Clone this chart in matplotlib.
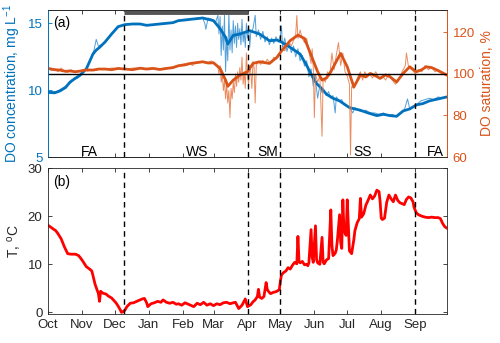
import numpy as np
import matplotlib.pyplot as plt
from matplotlib.transforms import blended_transform_factory

plt.rcParams['font.family'] = ['Liberation Sans', 'DejaVu Sans']
plt.rcParams['mathtext.default'] = 'regular'

# x axis: days since 1 October
month_days = [0, 31, 61, 92, 123, 151, 182, 212, 243, 273, 304, 335]
month_labels = ['Oct', 'Nov', 'Dec', 'Jan', 'Feb', 'Mar', 'Apr', 'May', 'Jun', 'Jul', 'Aug', 'Sep']
season_lines = [69, 182, 212, 335]
season_labels = ['FA', 'WS', 'SM', 'SS', 'FA']
season_label_days = [38, 136, 200, 287, 353]
ice_period = [69, 182]

# DO concentration, smoothed (mg/L)
do_day = [0, 6, 11, 16, 20, 25, 29, 35, 41, 44,
          47, 52, 58, 64, 70, 77, 84, 90, 96, 102,
          108, 114, 119, 125, 130, 136, 141, 146, 151, 157,
          162, 164, 169, 175, 184, 193, 202, 209, 213, 221,
          230, 236, 240, 245, 250, 254, 260, 266, 275, 285,
          292, 300, 306, 312, 318, 324, 330, 336, 342, 348,
          356, 364]
do_val = [9.85, 9.8, 9.95, 10.2, 10.6, 10.9, 11.1, 11.6, 12.7, 13.0,
          13.2, 13.6, 14.2, 14.75, 14.9, 14.95, 14.95, 14.85, 14.9, 14.95,
          15.0, 15.05, 15.2, 15.25, 15.3, 15.35, 15.4, 15.3, 15.2, 14.6,
          13.95, 13.45, 14.1, 14.2, 14.45, 14.2, 13.7, 13.75, 13.6, 13.2,
          12.7, 11.85, 11.2, 10.5, 10.1, 9.7, 9.4, 9.2, 8.7, 8.5,
          8.3, 8.1, 8.2, 8.1, 8.05, 8.45, 8.6, 8.9, 9.0, 9.2,
          9.35, 9.5]

# DO concentration, raw (mg/L)
do_raw_day = [0, 4, 8, 12, 16, 20, 24, 27, 30, 33,
              36, 39, 42, 44, 46, 49, 52, 56, 60, 64,
              68, 74, 80, 88, 96, 104, 112, 118, 124, 130,
              136, 141, 143, 144, 146, 150, 153, 155, 156, 157,
              158, 159, 160, 161, 162, 163, 164, 165, 166, 167,
              168, 169, 170, 171, 172, 173, 174, 175, 176, 177,
              178, 179, 180, 181, 182, 183, 184, 185, 187, 189,
              190, 192, 194, 196, 198, 200, 202, 204, 206, 208,
              210, 212, 213, 214, 216, 218, 220, 222, 224, 226,
              228, 230, 232, 234, 236, 238, 240, 242, 243, 245,
              246, 248, 250, 252, 254, 256, 258, 260, 262, 263,
              266, 268, 270, 273, 276, 278, 280, 283, 286, 290,
              294, 298, 302, 306, 310, 314, 318, 322, 325, 328,
              330, 333, 336, 340, 344, 348, 352, 356, 360, 364]
do_raw_val = [9.7, 9.9, 9.9, 10.1, 10.3, 10.5, 10.8, 10.9, 11.2, 11.4,
              11.8, 12.4, 13.0, 13.8, 13.3, 13.4, 13.6, 14.0, 14.4, 14.8,
              14.85, 14.9, 15.0, 14.9, 14.9, 15.0, 15.0, 15.2, 15.3, 15.3,
              15.4, 15.4, 15.0, 14.55, 15.4, 15.3, 15.1, 15.6, 14.2, 15.5,
              12.6, 14.8, 13.0, 15.6, 11.4, 14.0, 12.2, 15.8, 13.0, 14.5,
              12.8, 15.2, 13.5, 14.8, 13.2, 15.0, 13.8, 14.6, 13.4, 15.3,
              13.6, 14.4, 13.2, 15.0, 13.9, 14.8, 13.2, 14.3, 14.6, 15.6,
              14.0, 14.5, 13.8, 14.4, 13.6, 14.0, 13.4, 13.9, 13.5, 14.0,
              13.6, 14.1, 14.8, 13.2, 13.9, 12.9, 13.5, 12.8, 13.3, 12.5,
              13.1, 12.2, 12.6, 11.8, 12.2, 11.0, 11.6, 10.3, 11.2, 10.1,
              9.4, 10.4, 9.8, 10.0, 9.6, 9.9, 9.4, 9.6, 8.3, 9.5,
              9.2, 9.3, 8.9, 8.8, 8.6, 8.3, 8.7, 8.5, 8.4, 8.5,
              8.3, 8.3, 8.2, 8.3, 8.1, 8.2, 8.0, 8.3, 8.5, 9.35,
              8.6, 8.7, 8.9, 9.2, 9.3, 9.4, 9.3, 9.5, 9.4, 9.5]

# DO saturation, smoothed (%)
sat_day = [0, 6, 11, 16, 20, 25, 29, 35, 41, 46,
           52, 58, 64, 70, 77, 84, 90, 96, 102, 108,
           114, 119, 125, 130, 136, 141, 146, 151, 157, 162,
           164, 169, 175, 182, 187, 193, 202, 209, 213, 221,
           228, 234, 240, 246, 250, 254, 258, 263, 267, 273,
           279, 285, 290, 294, 299, 303, 308, 312, 318, 324,
           330, 336, 341, 345, 350, 355, 364]
sat_val = [102.6, 102.0, 101.8, 101.2, 101.4, 101.0, 101.3, 101.9, 101.8, 102.3,
           102.3, 102.0, 102.6, 102.3, 102.0, 102.7, 102.3, 102.6, 102.1, 102.6,
           103.0, 103.9, 104.3, 105.0, 105.4, 105.8, 105.2, 105.3, 102.6, 97.0,
           94.0, 97.0, 99.4, 101.0, 105.0, 105.8, 105.0, 108.0, 111.0, 116.0,
           118.6, 117.0, 109.0, 101.0, 97.0, 98.0, 101.0, 106.0, 109.8, 103.4,
           93.7, 99.4, 98.5, 100.2, 99.0, 97.8, 99.5, 98.6, 96.1, 100.2,
           103.4, 101.0, 102.0, 103.4, 103.0, 101.8, 99.4]

# DO saturation, raw (%)
sat_raw_day = [0, 3, 6, 9, 12, 15, 18, 21, 24, 27,
               30, 33, 36, 40, 44, 48, 52, 58, 64, 70,
               78, 86, 94, 102, 110, 116, 122, 128, 132, 134,
               138, 142, 146, 149, 151, 153, 155, 156, 157, 158,
               159, 160, 161, 162, 163, 164, 165, 166, 167, 168,
               169, 170, 171, 172, 173, 174, 175, 176, 177, 178,
               179, 180, 181, 182, 183, 184, 185, 186, 187, 188,
               189, 190, 192, 194, 196, 198, 200, 202, 204, 206,
               208, 210, 212, 214, 216, 218, 220, 222, 224, 226,
               227, 228, 230, 232, 234, 236, 238, 240, 241, 242,
               243, 244, 246, 248, 250, 251, 253, 255, 257, 259,
               261, 263, 265, 267, 269, 271, 273, 275, 276, 277,
               279, 281, 283, 285, 287, 289, 291, 293, 296, 299,
               302, 305, 308, 311, 314, 317, 320, 323, 326, 327,
               329, 332, 335, 338, 341, 344, 347, 350, 353, 356,
               360, 364]
sat_raw_val = [103.5, 101.5, 102.5, 101.0, 102.8, 101.2, 100.8, 102.0, 100.9, 101.5,
               101.0, 102.0, 101.3, 102.0, 101.6, 102.6, 102.2, 102.8, 102.5, 102.2,
               102.8, 102.6, 102.7, 102.5, 102.8, 103.5, 104.5, 105.2, 104.0, 105.5,
               105.8, 106.0, 105.5, 106.2, 105.5, 104.5, 103.0, 100.0, 104.0, 96.0,
               100.0, 92.0, 97.0, 88.0, 95.0, 86.0, 92.0, 79.0, 93.0, 88.0,
               96.0, 91.0, 100.0, 94.0, 101.0, 96.0, 103.0, 97.0, 108.0, 95.0,
               101.0, 93.0, 110.0, 99.0, 95.0, 104.0, 101.0, 93.0, 106.0, 103.0,
               86.0, 104.0, 106.0, 104.5, 106.5, 105.0, 107.0, 105.5, 106.0, 108.0,
               107.0, 109.5, 110.0, 112.0, 111.0, 114.0, 115.0, 113.5, 116.0, 119.0,
               128.0, 117.0, 121.0, 117.0, 115.0, 117.0, 111.0, 105.0, 112.0, 103.0,
               79.0, 100.0, 96.0, 99.0, 70.0, 98.0, 96.0, 101.0, 99.0, 110.0,
               102.0, 109.0, 115.0, 104.0, 110.0, 101.0, 99.0, 95.0, 61.0, 94.0,
               93.0, 96.0, 99.0, 101.0, 97.0, 101.0, 99.0, 100.0, 98.0, 101.0,
               98.0, 99.0, 97.0, 100.0, 97.0, 95.0, 97.0, 101.0, 104.0, 110.0,
               103.0, 102.0, 100.0, 102.0, 101.0, 104.0, 102.0, 103.0, 101.0, 102.0,
               100.0, 99.0]

# water temperature (deg C)
temp_day = [0, 2, 5, 7, 9, 12, 15, 18, 21, 25,
            28, 31, 33, 35, 38, 40, 43, 45, 46, 47,
            48, 50, 53, 55, 58, 60, 62, 64, 66, 67,
            68, 70, 72, 75, 78, 81, 84, 86, 88, 90,
            91, 94, 97, 100, 103, 105, 108, 111, 114, 117,
            119, 122, 125, 128, 131, 133, 136, 139, 142, 145,
            148, 151, 154, 157, 160, 163, 166, 169, 171, 174,
            177, 180, 181, 182, 185, 187, 189, 191, 192, 193,
            195, 197, 199, 200, 201, 203, 206, 208, 211, 212,
            213, 215, 217, 219, 221, 223, 225, 227, 228, 229,
            230, 232, 234, 236, 237, 238, 240, 241, 242, 244,
            245, 246, 248, 250, 251, 252, 254, 256, 258, 259,
            260, 262, 263, 264, 266, 267, 268, 269, 270, 272,
            273, 274, 275, 277, 279, 280, 282, 284, 285, 286,
            288, 290, 292, 294, 296, 298, 300, 302, 303, 304,
            305, 307, 309, 311, 313, 315, 317, 319, 321, 323,
            325, 327, 329, 331, 333, 334, 336, 338, 341, 344,
            347, 350, 353, 356, 358, 360, 362, 364]
temp_val = [18.1, 17.8, 17.3, 17.0, 16.4, 15.3, 13.6, 12.2, 12.1, 12.1,
            11.8, 10.9, 10.2, 9.5, 9.0, 8.6, 5.8, 4.5, 3.9, 2.3,
            4.4, 4.0, 3.8, 3.4, 3.0, 2.5, 2.0, 1.3, 0.5, 0.0,
            0.1, 0.4, 1.2, 1.9, 2.0, 2.3, 2.6, 2.8, 2.9, 2.0,
            1.2, 1.8, 2.0, 2.3, 2.1, 2.6, 2.1, 1.9, 2.1, 1.7,
            1.8, 1.5, 2.0, 1.7, 1.4, 1.2, 1.9, 1.6, 2.1, 1.5,
            1.8, 1.4, 1.8, 1.6, 2.0, 2.1, 1.8, 2.0, 2.1, 0.8,
            1.5, 2.8, 2.0, 1.2, 1.6, 2.2, 2.6, 3.3, 4.8, 3.2,
            2.9, 3.3, 6.2, 4.8, 4.4, 3.9, 4.2, 4.3, 4.7, 6.5,
            7.8, 8.3, 8.6, 9.3, 9.0, 9.8, 10.4, 10.1, 15.8, 10.6,
            10.3, 10.6, 9.9, 10.0, 9.7, 10.3, 17.2, 11.5, 10.4, 18.0,
            11.0, 10.3, 10.0, 15.6, 10.4, 10.1, 10.9, 11.2, 21.3, 14.0,
            11.8, 12.3, 13.0, 15.0, 20.3, 14.5, 13.3, 23.4, 17.0, 16.0,
            23.4, 18.0, 12.8, 12.2, 15.1, 17.0, 18.6, 19.5, 23.7, 19.8,
            20.5, 22.3, 23.3, 24.4, 23.6, 24.2, 25.4, 25.1, 23.0, 19.6,
            19.3, 19.6, 22.9, 24.4, 23.6, 23.0, 24.4, 23.3, 22.8, 22.6,
            22.4, 23.5, 24.0, 23.8, 23.0, 21.8, 20.7, 20.3, 20.0, 19.8,
            19.7, 19.8, 19.7, 19.7, 19.5, 18.5, 17.8, 17.5]

blue = '#0072BD'
orange = '#D95319'
grey = '#262626'

fig = plt.figure(figsize=(5.0, 3.43), dpi=100)
ax1 = fig.add_axes([0.096, 0.542, 0.798, 0.429])
ax2 = ax1.twinx()
ax3 = fig.add_axes([0.096, 0.085, 0.798, 0.425])

# top panel, left axis
ax1.plot(do_raw_day, do_raw_val, color='#3f95d6', lw=0.7, alpha=0.9)
ax1.plot(do_day, do_val, color=blue, lw=2.0)
ax1.set_ylim(5, 16)
ax1.set_yticks([5, 10, 15])
ax1.set_ylabel('DO concentration, mg L$^{-1}$', color=blue, fontsize=10)
ax1.yaxis.set_label_coords(-0.062, 0.5)

# top panel, right axis
ax2.plot(sat_raw_day, sat_raw_val, color='#e8804f', lw=0.7, alpha=0.9)
ax2.plot(sat_day, sat_val, color=orange, lw=2.0)
ax2.axhline(100, color='black', lw=1.0)
ax2.set_ylim(60, 130.7)
ax2.set_yticks([60, 80, 100, 120])
ax2.set_ylabel('DO saturation, %', color=orange, fontsize=10)
ax2.yaxis.set_label_coords(1.083, 0.5)

for d in season_lines:
    ax2.axvline(d, color='black', lw=1.0, ls=(0, (4, 3)))
ax2.plot(ice_period, [0.985, 0.985], color='#555555', lw=3.5,
         transform=blended_transform_factory(ax2.transData, ax2.transAxes),
         clip_on=False, solid_capstyle='butt')
for d, s in zip(season_label_days, season_labels):
    ax2.text(d, 62.5, s, ha='center', va='center', fontsize=10)
ax2.text(0.014, 0.91, '(a)', transform=ax2.transAxes, fontsize=10, va='center')

# bottom panel
ax3.plot(temp_day, temp_val, color='red', lw=2.0)
for d in season_lines:
    ax3.axvline(d, color='black', lw=1.0, ls=(0, (4, 3)))
ax3.set_ylim(-0.3, 30)
ax3.set_yticks([0, 10, 20, 30])
ax3.set_ylabel('T, $^{o}$C', fontsize=10, color=grey)
ax3.yaxis.set_label_coords(-0.062, 0.5)
ax3.text(0.014, 0.905, '(b)', transform=ax3.transAxes, fontsize=10, va='center')

for ax in (ax1, ax2, ax3):
    ax.set_xlim(0, 364)
    ax.set_xticks(month_days)
    ax.tick_params(direction='in', length=3, width=0.6, labelsize=9.5, pad=4,
                   colors=grey)
ax1.tick_params(axis='x', top=True, labelbottom=False)
ax3.tick_params(axis='x', top=True)
ax3.tick_params(axis='y', right=True)
ax3.set_xticklabels(month_labels)

ax1.tick_params(axis='y', colors=blue)
ax2.tick_params(axis='y', colors=orange)
for ax in (ax1, ax2):
    for s in ('top', 'bottom'):
        ax.spines[s].set_color(grey)
        ax.spines[s].set_linewidth(0.6)
    ax.spines['left'].set_color(blue)
    ax.spines['right'].set_color(orange)
    ax.spines['left'].set_linewidth(0.6)
    ax.spines['right'].set_linewidth(0.6)
for s in ax3.spines.values():
    s.set_color(grey)
    s.set_linewidth(0.6)

fig.savefig('out.png', dpi=100)
